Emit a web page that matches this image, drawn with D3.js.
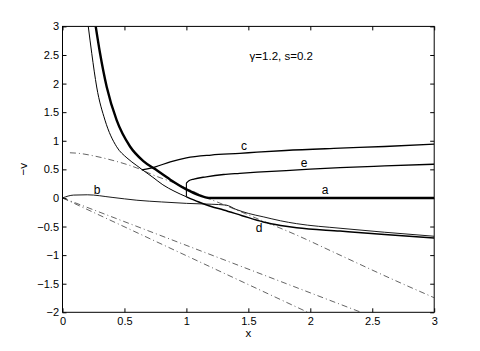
<!DOCTYPE html>
<html>
<head>
<meta charset="utf-8">
<script src="https://cdn.jsdelivr.net/npm/d3@7"></script>
<style>
  body { margin: 0; background: #fff; }
  svg { display: block; font-family: "Liberation Sans", Arial, Helvetica, sans-serif; }
  .tick text { font-size: 11px; fill: #000; }
</style>
</head>
<body>
<svg class="js-chart" width="480" height="351"></svg>
<script>
var xTicks = [0, 0.5, 1, 1.5, 2, 2.5, 3],
    xTickLabels = ['0', '0.5', '1', '1.5', '2', '2.5', '3'],
    yTicks = [-2, -1.5, -1, -0.5, 0, 0.5, 1, 1.5, 2, 2.5, 3],
    yTickLabels = ['\u22122', '\u22121.5', '\u22121', '\u22120.5', '0', '0.5', '1', '1.5', '2', '2.5', '3'];

// curves, [x, -v]
var curveA = [[0.268, 3.0], [0.303, 2.53], [0.357, 1.94], [0.437, 1.36], [0.545, 0.9], [0.65, 0.65],
              [0.75, 0.5], [0.87, 0.32], [1.0, 0.15], [1.1, 0.05], [1.18, 0.0], [2, 0], [3, 0]];
var curveF = [[0.208, 3.0], [0.236, 2.53], [0.276, 1.94], [0.343, 1.36], [0.437, 0.895], [0.52, 0.7],
              [0.6, 0.565], [0.64, 0.5], [0.73, 0.36], [0.81, 0.23], [0.9, 0.12], [1.0, 0.02]];
var curveD = [[1.0, 0.02], [1.1, -0.07], [1.2, -0.15], [1.3, -0.21], [1.45, -0.31], [1.62, -0.42],
              [1.76, -0.48], [1.89, -0.52], [2.24, -0.58], [2.6, -0.64], [3, -0.7]];
var curveB = [[0, 0], [0.09, 0.05], [0.2, 0.055], [0.4, 0.01], [0.6, -0.04], [0.8, -0.07], [1.0, -0.095],
              [1.2, -0.11], [1.32, -0.125], [1.4, -0.2], [1.5, -0.27], [1.62, -0.33], [1.76, -0.4],
              [1.89, -0.45], [2.24, -0.53], [2.6, -0.6], [3, -0.67]];
var curveC = [[0.64, 0.49], [0.75, 0.545], [0.87, 0.63], [1.0, 0.7], [1.2, 0.75], [1.43, 0.78], [1.57, 0.8],
              [1.8, 0.83], [2.24, 0.87], [2.6, 0.9], [3, 0.94]];
var curveE = [[1.0, 0.26], [1.02, 0.3], [1.06, 0.33], [1.16, 0.37], [1.3, 0.41], [1.43, 0.43], [1.57, 0.45],
              [1.9, 0.49], [2.24, 0.53], [2.6, 0.56], [3, 0.59]];
var jumpE = [[1.0, 0.02], [1.0, 0.26]];
var dashG = [[0.06, 0.79], [0.13, 0.78], [0.265, 0.73], [0.4, 0.66], [0.534, 0.575], [0.64, 0.49],
             [0.733, 0.4], [0.894, 0.27], [1.05, 0.12], [1.19, -0.02], [1.27, -0.09], [1.57, -0.36],
             [1.89, -0.65], [2.21, -0.97], [2.64, -1.4], [3, -1.745]];
var dashH1 = [[0, 0], [2.41, -2]];
var dashH2 = [[0, 0], [1.98, -2]];

var labels = [
  { t: 'a', x: 2.12, y: 0.14 },
  { t: 'b', x: 0.28, y: 0.15 },
  { t: 'c', x: 1.465, y: 0.91 },
  { t: 'd', x: 1.586, y: -0.53 },
  { t: 'e', x: 1.95, y: 0.615 }
];
var note = { t: '\u03b3=1.2, s=0.2', x: 1.51, y: 2.41 };

var svg = d3.select('.js-chart'),
    x = d3.scaleLinear().domain([0, 3]).range([62.5, 434.2]),
    y = d3.scaleLinear().domain([-2, 3]).range([312.3, 26.4]);

svg.append('defs').append('clipPath').attr('id', 'clip')
    .append('rect')
    .attr('x', x(0)).attr('y', y(3))
    .attr('width', x(3) - x(0)).attr('height', y(-2) - y(3));

// axes, ticks pointing inward like matlab
function fmt(ticks, labs) { return function(d) { return labs[ticks.indexOf(d)]; }; }
svg.append('g').attr('transform', 'translate(0,' + y(-2) + ')')
    .call(d3.axisBottom(x).tickValues(xTicks).tickFormat(fmt(xTicks, xTickLabels)).tickSize(-4).tickPadding(5));
svg.append('g').attr('transform', 'translate(0,' + y(3) + ')')
    .call(d3.axisTop(x).tickValues(xTicks).tickFormat('').tickSize(-4));
svg.append('g').attr('transform', 'translate(' + x(0) + ',0)')
    .call(d3.axisLeft(y).tickValues(yTicks).tickFormat(fmt(yTicks, yTickLabels)).tickSize(-4).tickPadding(3.5));
svg.append('g').attr('transform', 'translate(' + x(3) + ',0)')
    .call(d3.axisRight(y).tickValues(yTicks).tickFormat('').tickSize(-4));
svg.selectAll('.domain').remove();
svg.selectAll('.tick line').attr('stroke', '#000');

svg.append('rect')
    .attr('x', x(0)).attr('y', y(3))
    .attr('width', x(3) - x(0)).attr('height', y(-2) - y(3))
    .attr('fill', 'none').attr('stroke', '#000').attr('stroke-width', 1);

var line = d3.line()
    .x(function(d) { return x(d[0]); })
    .y(function(d) { return y(d[1]); })
    .curve(d3.curveMonotoneX);
var straight = d3.line()
    .x(function(d) { return x(d[0]); })
    .y(function(d) { return y(d[1]); });

var plot = svg.append('g').attr('clip-path', 'url(#clip)');
var series = [
  { d: dashG, w: 0.7, dash: '6,3,1,3' },
  { d: dashH1, w: 0.7, dash: '6,3,1,3', lin: true },
  { d: dashH2, w: 0.7, dash: '6,3,1,3', lin: true },
  { d: curveB, w: 0.9 },
  { d: curveF, w: 1.0 },
  { d: curveC, w: 1.3 },
  { d: curveE, w: 1.3 },
  { d: jumpE, w: 1.1, lin: true },
  { d: curveD, w: 1.5 },
  { d: curveA, w: 2.4 }
];
plot.selectAll('path.curve')
    .data(series)
    .enter()
    .append('path')
    .attr('class', 'curve')
    .attr('fill', 'none')
    .attr('stroke', function(s) { return s.dash ? '#222' : '#000'; })
    .attr('stroke-width', function(s) { return s.w; })
    .attr('stroke-dasharray', function(s) { return s.dash || null; })
    .attr('d', function(s) { return s.lin ? straight(s.d) : line(s.d); });

svg.selectAll('text.lab')
    .data(labels)
    .enter()
    .append('text')
    .attr('class', 'lab')
    .attr('x', function(d) { return x(d.x); })
    .attr('y', function(d) { return y(d.y); })
    .attr('dy', '0.35em')
    .attr('text-anchor', 'middle')
    .attr('font-size', 12)
    .text(function(d) { return d.t; });

svg.append('text')
    .attr('x', x(note.x)).attr('y', y(note.y))
    .attr('font-size', 11.5)
    .text(note.t);

svg.append('text')
    .attr('x', (x(0) + x(3)) / 2).attr('y', 337)
    .attr('text-anchor', 'middle')
    .attr('font-size', 11.5)
    .text('x');

svg.append('text')
    .attr('transform', 'translate(27,' + (y(-2) + y(3)) / 2 + ') rotate(-90)')
    .attr('text-anchor', 'middle')
    .attr('font-size', 11.5)
    .text('\u2212v');
</script>
</body>
</html>
